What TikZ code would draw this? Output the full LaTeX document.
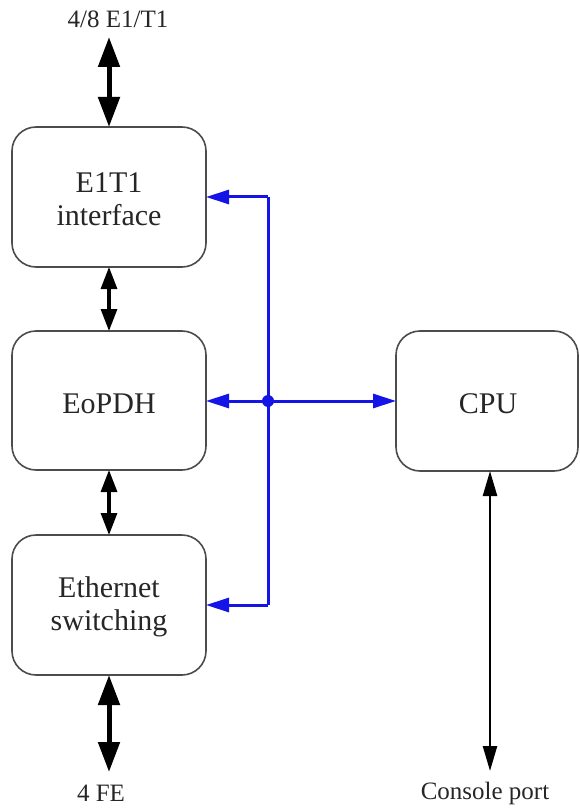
\documentclass[tikz,border=0pt]{standalone}
\usepackage{fontspec}
\setmainfont{Liberation Serif}
\usetikzlibrary{arrows.meta}
\definecolor{bblue}{RGB}{20,20,230}
\begin{document}
\begin{tikzpicture}[x=1pt,y=-1pt,
  blk/.style={draw=black!70,line width=1.6pt,rounded corners=24pt,fill=white},
  btxt/.style={font=\fontsize{30}{33}\selectfont,align=center,text=black!85},
  lbl/.style={font=\fontsize{25}{29}\selectfont,text=black!85,anchor=base,inner sep=0pt},
  bigarr/.style={line width=5pt,{Triangle[width=21pt,length=30pt]}-{Triangle[width=21pt,length=30pt]}},
  midarr/.style={line width=3.2pt,{Triangle[width=16pt,length=22pt]}-{Triangle[width=16pt,length=22pt]}},
  thinarr/.style={line width=2.4pt,{Triangle[width=14pt,length=25pt]}-{Triangle[width=14pt,length=25pt]}},
  blu/.style={draw=bblue,line width=3pt,-{Triangle[width=14pt,length=23pt]}}]
\useasboundingbox (0,0) rectangle (580,810);
\path[blk] (12,127) rectangle (206,267);
\node[btxt] (e1t1) at (109,199) {E1T1\\interface};
\path[blk] (12,331) rectangle (206,470);
\node[btxt] (eopdh) at (109,404) {EoPDH};
\path[blk] (12,535) rectangle (206,675);
\node[btxt] (eth) at (109,607) {Ethernet\\switching};
\path[blk] (396,331) rectangle (578,471);
\node[btxt] (cpu) at (488,404) {CPU};
\coordinate (b1t) at (109,127);
\coordinate (b1b) at (109,267);
\coordinate (b2t) at (109,331);
\coordinate (b2b) at (109,470);
\coordinate (b3t) at (109,535);
\coordinate (b3b) at (109,675);
\coordinate (cpub) at (490,471);
\coordinate (b1r) at (206,197);
\coordinate (b2r) at (206,401);
\coordinate (b3r) at (206,605);
\coordinate (cpul) at (396,401);
\coordinate (j) at (268,401);
\coordinate (jt) at (268,197);
\coordinate (jb) at (268,605);
\node[lbl] (top) at (118,28) {4/8 E1/T1};
\node[lbl] (fe) at (101,801) {4 FE};
\node[lbl] (con) at (485,799) {Console port};
\coordinate (topa) at (109,37);
\coordinate (fea) at (109,772);
\coordinate (cona) at (490,771);
\draw[bigarr] (topa) -- (b1t);
\draw[bigarr] (b3b) -- (fea);
\draw[midarr] (b1b) -- (b2t);
\draw[midarr] (b2b) -- (b3t);
\draw[thinarr] (cpub) -- (cona);
\draw[blu,-] (jt) -- (jb);
\draw[blu] (jt) -- (b1r);
\draw[blu] (jb) -- (b3r);
\draw[blu] (j) -- (b2r);
\draw[blu] (j) -- (cpul);
\fill[bblue] (j) circle (6pt);
\end{tikzpicture}
\end{document}
